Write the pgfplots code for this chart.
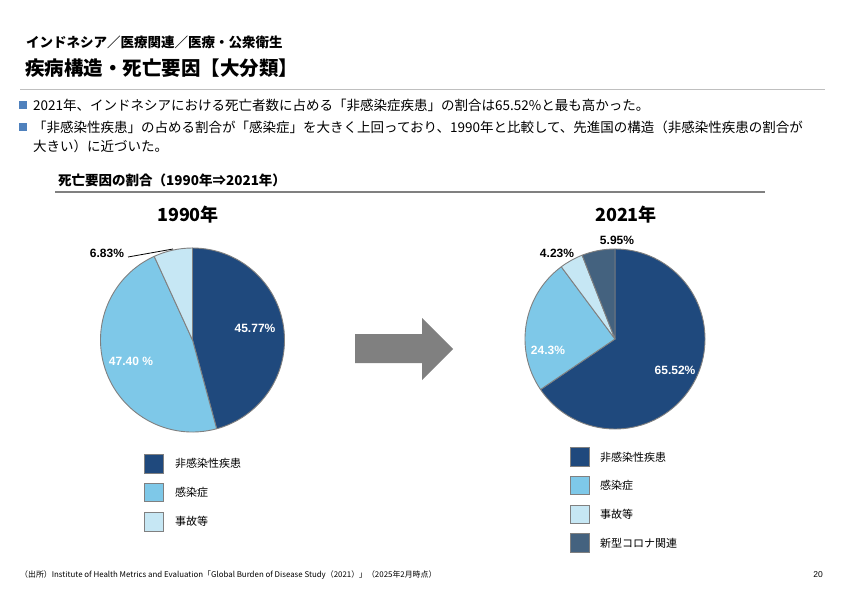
\documentclass[border=0pt]{standalone}
\usepackage{fontspec}
\setmainfont{Noto Sans CJK JP}
\newfontfamily\lat{Liberation Sans}
\usepackage{pgfplots}
\pgfplotsset{compat=1.18}
\definecolor{cA}{HTML}{1F497D}
\definecolor{cB}{HTML}{7EC8E8}
\definecolor{cC}{HTML}{C6E7F4}
\definecolor{cD}{HTML}{44627F}
\definecolor{bul}{HTML}{4F81BD}
\definecolor{edge}{HTML}{808080}
\definecolor{arr}{HTML}{808080}
% pie slice: start (%), share (%), colour, radius
\newcommand\pieslice[4]{%
  \filldraw[fill=#3,draw=edge,line width=0.9pt,line join=round]
    (axis cs:0,0) -- ++({90-3.6*(#1)}:#4)
    arc[start angle={90-3.6*(#1)},end angle={90-3.6*(#1+#2)},radius=#4] -- cycle;}
\begin{document}
\begin{tikzpicture}[x=1pt,y=1pt]
\fill[white] (0,0) rectangle (842,595);
\path[use as bounding box] (0,0) rectangle (842,595);
% titles
\node[anchor=west,inner sep=0,font=\bfseries\fontsize{13.5}{15}\selectfont] at (26,553) {インドネシア／医療関連／医療・公衆衛生};
\node[anchor=west,inner sep=0,font=\bfseries\fontsize{19.5}{22}\selectfont] at (25,527) {疾病構造・死亡要因【大分類】};
\draw[color=black!25,line width=0.8pt] (20,506) -- (825,506);
% bullets
\fill[bul] (18.5,486) rectangle (26.5,494);
\fill[bul] (18.5,464) rectangle (26.5,472);
\node[anchor=west,inner sep=0,font=\fontsize{13.5}{16}\selectfont] at (33,490) {2021年、インドネシアにおける死亡者数に占める「非感染症疾患」の割合は65.52\%と最も高かった。};
\node[anchor=west,inner sep=0,font=\fontsize{13.5}{16}\selectfont] at (33,468) {「非感染性疾患」の占める割合が「感染症」を大きく上回っており、1990年と比較して、先進国の構造（非感染性疾患の割合が};
\node[anchor=west,inner sep=0,font=\fontsize{13.5}{16}\selectfont] at (33,449) {大きい）に近づいた。};
% chart header
\node[anchor=west,inner sep=0,font=\bfseries\fontsize{13.5}{15}\selectfont] at (58,415) {死亡要因の割合（1990年⇒2021年）};
\draw[color=edge,line width=2pt] (55,403) -- (765,403);
\node[font=\bfseries\fontsize{18}{20}\selectfont] at (188,380) {1990年};
\node[font=\bfseries\fontsize{18}{20}\selectfont] at (626,380) {2021年};
% pie 1990
\begin{axis}[at={(192.5pt,255pt)},anchor=center,hide axis,x=92pt,y=92pt,
  xmin=-1,xmax=1,ymin=-1,ymax=1,clip=false]
\pieslice{0}{45.77}{cA}{92pt}
\pieslice{45.77}{47.40}{cB}{92pt}
\pieslice{93.17}{6.83}{cC}{92pt}
\end{axis}
% pie 2021
\begin{axis}[at={(615pt,256pt)},anchor=center,hide axis,x=90pt,y=90pt,
  xmin=-1,xmax=1,ymin=-1,ymax=1,clip=false]
\pieslice{0}{65.52}{cA}{90pt}
\pieslice{65.52}{24.30}{cB}{90pt}
\pieslice{89.82}{4.23}{cC}{90pt}
\pieslice{94.05}{5.95}{cD}{90pt}
\end{axis}
% labels 1990
\node[text=white,font=\lat\bfseries\fontsize{12}{14}\selectfont] at (255,267) {45.77\%};
\node[text=white,font=\lat\bfseries\fontsize{12}{14}\selectfont] at (131,234) {47.40 \%};
\node[text=black,font=\lat\bfseries\fontsize{12}{14}\selectfont] at (107,342) {6.83\%};
\draw[black,line width=0.8pt] (128,338) -- (173,346);
% labels 2021
\node[text=white,font=\lat\bfseries\fontsize{12}{14}\selectfont] at (675,225) {65.52\%};
\node[text=white,font=\lat\bfseries\fontsize{12}{14}\selectfont] at (548,245) {24.3\%};
\node[text=black,font=\lat\bfseries\fontsize{12}{14}\selectfont] at (557,342) {4.23\%};
\node[text=black,font=\lat\bfseries\fontsize{12}{14}\selectfont] at (617,355) {5.95\%};
% arrow
\fill[arr] (355,261) -- (422,261) -- (422,277) -- (453,246) -- (422,215) -- (422,232) -- (355,232) -- cycle;
% legend 1990
\filldraw[fill=cA,draw=edge,line width=0.8pt] (144.5,122) rectangle (163,140.5);
\filldraw[fill=cB,draw=edge,line width=0.8pt] (144.5,93.5) rectangle (163,112);
\filldraw[fill=cC,draw=edge,line width=0.8pt] (144.5,64) rectangle (163,82.5);
\node[anchor=west,inner sep=0,font=\fontsize{11}{13}\selectfont] at (175,131.5) {非感染性疾患};
\node[anchor=west,inner sep=0,font=\fontsize{11}{13}\selectfont] at (175,103) {感染症};
\node[anchor=west,inner sep=0,font=\fontsize{11}{13}\selectfont] at (175,73.5) {事故等};
% legend 2021
\filldraw[fill=cA,draw=edge,line width=0.8pt] (570.5,129) rectangle (589,147.5);
\filldraw[fill=cB,draw=edge,line width=0.8pt] (570.5,101) rectangle (589,119);
\filldraw[fill=cC,draw=edge,line width=0.8pt] (570.5,72) rectangle (589,90);
\filldraw[fill=cD,draw=edge,line width=0.8pt] (570.5,43) rectangle (589,61.5);
\node[anchor=west,inner sep=0,font=\fontsize{11}{13}\selectfont] at (600,138) {非感染性疾患};
\node[anchor=west,inner sep=0,font=\fontsize{11}{13}\selectfont] at (600,110) {感染症};
\node[anchor=west,inner sep=0,font=\fontsize{11}{13}\selectfont] at (600,81) {事故等};
\node[anchor=west,inner sep=0,font=\fontsize{11}{13}\selectfont] at (600,52) {新型コロナ関連};
% footer
\node[anchor=west,inner sep=0,font=\fontsize{7.9}{9}\selectfont] at (20,20) {（出所）Institute of Health Metrics and Evaluation「Global Burden of Disease Study（2021）」（2025年2月時点）};
\node[inner sep=0,font=\lat\fontsize{8.5}{10}\selectfont] at (818,20) {20};
\end{tikzpicture}
\end{document}
